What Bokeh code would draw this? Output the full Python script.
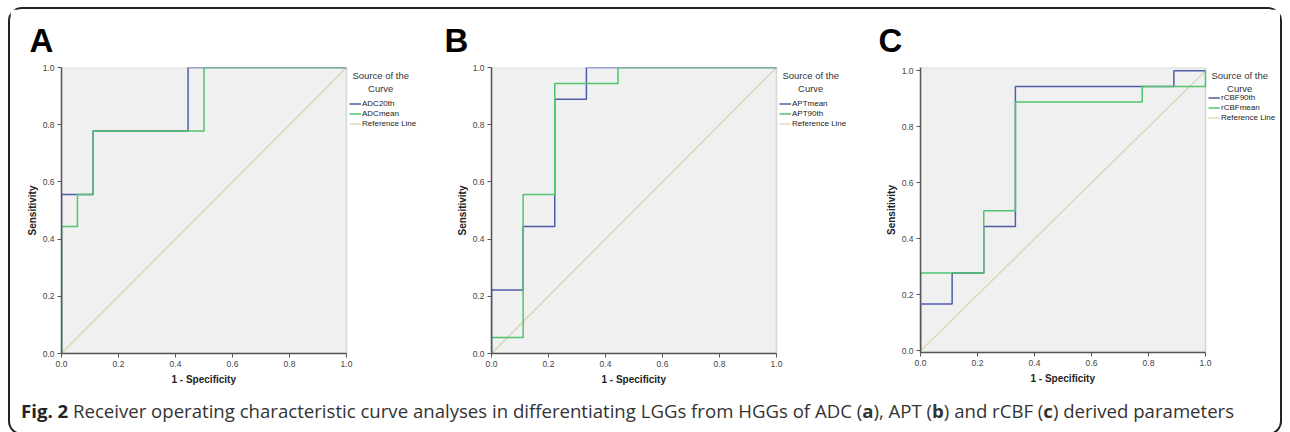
from bokeh.plotting import figure
from bokeh.models import (Range1d, PrintfTickFormatter, Legend, LegendItem, Div,
                          BoxAnnotation, Title, Label)
from bokeh.layouts import row, column
from bokeh.embed import file_html
from bokeh.resources import INLINE

ticks = [0.0, 0.2, 0.4, 0.6, 0.8, 1.0]
ref_line = [0.0, 1.0]

# Panel A (ADC)
a_names = ["ADC20th", "ADCmean"]
a1_fpr = [0.0, 0.0, 0.111, 0.111, 0.444, 0.444, 1.0]
a1_tpr = [0.0, 0.556, 0.556, 0.778, 0.778, 1.0, 1.0]
a2_fpr = [0.0, 0.0, 0.056, 0.056, 0.111, 0.111, 0.5, 0.5, 1.0]
a2_tpr = [0.0, 0.444, 0.444, 0.556, 0.556, 0.778, 0.778, 1.0, 1.0]

# Panel B (APT)
b_names = ["APTmean", "APT90th"]
b1_fpr = [0.0, 0.0, 0.111, 0.111, 0.222, 0.222, 0.333, 0.333, 1.0]
b1_tpr = [0.0, 0.222, 0.222, 0.444, 0.444, 0.889, 0.889, 1.0, 1.0]
b2_fpr = [0.0, 0.0, 0.111, 0.111, 0.222, 0.222, 0.444, 0.444, 1.0]
b2_tpr = [0.0, 0.056, 0.056, 0.556, 0.556, 0.944, 0.944, 1.0, 1.0]

# Panel C (rCBF)
c_names = ["rCBF90th", "rCBFmean"]
c1_fpr = [0.0, 0.0, 0.111, 0.111, 0.222, 0.222, 0.333, 0.333, 0.889, 0.889, 1.0]
c1_tpr = [0.0, 0.167, 0.167, 0.278, 0.278, 0.444, 0.444, 0.944, 0.944, 1.0, 1.0]
c2_fpr = [0.0, 0.0, 0.222, 0.222, 0.333, 0.333, 0.778, 0.778, 1.0, 1.0]
c2_tpr = [0.0, 0.278, 0.278, 0.5, 0.5, 0.889, 0.889, 0.944, 0.944, 1.0]

legend_title = "Source of the\nCurve"
ref_name = "Reference Line"
x_label = "1 - Specificity"
y_label = "Sensitivity"
caption_bold = "Fig. 2"
caption_text = ("Receiver operating characteristic curve analyses in differentiating LGGs from HGGs of "
                "ADC (<b>a</b>), APT (<b>b</b>) and rCBF (<b>c</b>) derived parameters")

BLUE = "#4f5cab"
GREEN = "#50c46e"
REF = "#d8d2ae"
FONT = "Liberation Sans"
PW = 285  # width of the ROC square, px


def panel(letter, letter_off, names, c1, c2, left, total_w, right, y0, y1, fh, top, bottom=40):
    fw = total_w - left - right
    xmax = fw / PW
    p = figure(width=total_w, height=top + fh + bottom,
               x_range=Range1d(0, xmax), y_range=Range1d(y0, y1),
               output_backend="svg", toolbar_location=None,
               min_border_left=left, min_border_right=right, min_border_top=top,
               min_border_bottom=bottom)
    p.title.text = letter
    p.title.text_font = FONT
    p.title.text_font_size = "33px"
    p.title.text_font_style = "bold"
    p.title.text_color = "#000000"
    p.title.align = "left"
    p.title.offset = letter_off
    p.title.standoff = 18
    p.background_fill_color = "white"
    p.border_fill_color = "white"
    p.outline_line_color = None
    p.xgrid.visible = False
    p.ygrid.visible = False

    p.add_layout(BoxAnnotation(left=0, right=1, bottom=y0, top=y1, fill_color="#f0f0f0",
                               fill_alpha=1, line_color="#8a8a8a", line_width=1.5,
                               level="underlay"))

    for ax in (p.xaxis[0], p.yaxis[0]):
        ax.ticker = ticks
        ax.formatter = PrintfTickFormatter(format="%.1f")
        ax.major_label_text_font = FONT
        ax.major_label_text_font_size = "8.5px"
        ax.major_label_text_color = "#444444"
        ax.major_tick_out = 4
        ax.major_tick_in = 0
        ax.minor_tick_out = 0
        ax.minor_tick_in = 0
        ax.axis_line_color = "#555555"
        ax.axis_line_width = 1.5
        ax.major_tick_line_color = "#555555"
        ax.axis_label_text_font = FONT
        ax.axis_label_text_font_size = "10px"
        ax.axis_label_text_font_style = "bold"
        ax.axis_label_text_color = "#222222"
        ax.major_label_standoff = 3
    p.xaxis.bounds = (0, 1)
    p.yaxis.axis_label = y_label
    p.yaxis.axis_label_standoff = 2

    xt = Title(text=x_label, align="left", offset=110, text_font=FONT,
               text_font_size="10px", text_font_style="bold", text_color="#222222", standoff=5)
    p.add_layout(xt, "below")

    rr = p.line(ref_line, ref_line, line_color=REF, line_width=1.2)
    r1 = p.line(c1[0], c1[1], line_color=BLUE, line_width=1.5)
    r2 = p.line(c2[0], c2[1], line_color=GREEN, line_width=1.5)

    legend = Legend(items=[LegendItem(label=names[0], renderers=[r1]),
                           LegendItem(label=names[1], renderers=[r2]),
                           LegendItem(label=ref_name, renderers=[rr])],
                    location=(PW + 3, fh - 61))
    legend.label_text_font = FONT
    legend.label_text_font_size = "8px"
    legend.label_text_color = "#222222"
    legend.glyph_width = 12
    legend.glyph_height = 9
    legend.label_height = 9
    legend.spacing = 1
    legend.padding = 1
    legend.margin = 0
    legend.label_standoff = 1
    legend.border_line_color = None
    legend.background_fill_alpha = 0
    p.add_layout(legend, "center")

    p.add_layout(Label(x=1.12, y=y1, y_offset=-2, text=legend_title, text_align="center",
                       text_baseline="top", text_font=FONT, text_font_size="9.5px",
                       text_color="#333333"))
    return p


pA = panel("A", -32, a_names, (a1_fpr, a1_tpr), (a2_fpr, a2_tpr), 51, 430, 8, 0, 1, 286, 58)
pB = panel("B", -47, b_names, (b1_fpr, b1_tpr), (b2_fpr, b2_tpr), 51, 430, 8, 0, 1, 286, 58)
pC = panel("C", -42, c_names, (c1_fpr, c1_tpr), (c2_fpr, c2_tpr), 50, 410, 0, -0.006, 1.012, 291, 52)

cap = Div(text='<span style="font-weight:bold;color:#222">' + caption_bold + '</span> ' + caption_text,
          width=1260, height=30,
          styles={"font-family": "Open Sans", "font-size": "18.6px", "color": "#333333",
                  "padding-left": "6px", "white-space": "nowrap"})

layout = column(row(pA, pB, pC), cap,
                styles={"border": "2px solid #222222", "border-radius": "14px", "background": "white",
                        "margin-left": "8px", "margin-top": "7px"})

open("out.html", "w").write(file_html(layout, INLINE))
